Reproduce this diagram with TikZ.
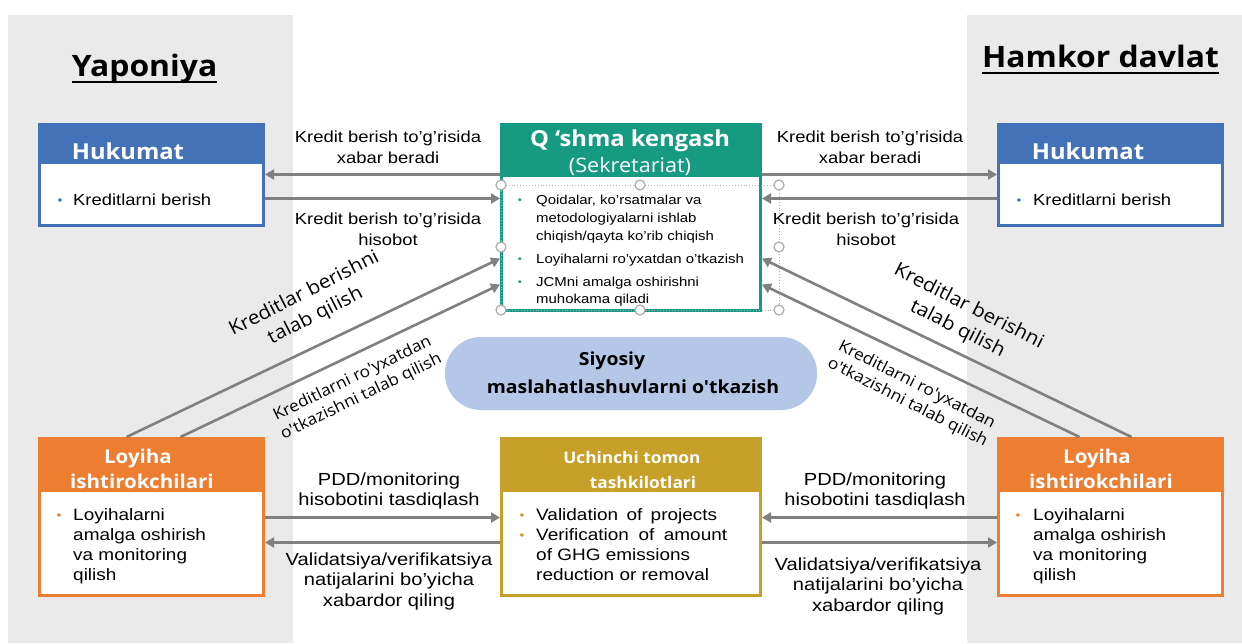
\documentclass[tikz,border=0pt]{standalone}
\usepackage{fontspec}
\setmainfont[FakeStretch=1.15]{Liberation Sans}
\newfontfamily\hdfont[FakeStretch=1.08]{Open Sans}
\usetikzlibrary{arrows.meta,calc}
\definecolor{cBlue}{RGB}{68,114,184}
\definecolor{cTeal}{RGB}{22,154,130}
\definecolor{cOrange}{RGB}{237,125,49}
\definecolor{cGold}{RGB}{199,160,42}
\definecolor{cEll}{RGB}{180,199,231}
\definecolor{cPanel}{RGB}{234,234,234}
\definecolor{cArrow}{RGB}{128,128,128}
\newcommand\fsz[2]{\fontsize{#1}{#2}\selectfont}
\tikzset{
  box/.style={draw=#1, line width=3pt, fill=white, inner sep=0pt, rectangle},
  ttl/.style={inner sep=0pt, anchor=base, font=\hdfont\bfseries\fsz{29.5}{34}},
  hdr/.style={inner sep=0pt, anchor=base, text=white, font=\hdfont\bfseries\fsz{22}{26}},
  hdrb/.style={inner sep=0pt, anchor=base, text=white, font=\hdfont\bfseries\fsz{19}{23}},
  hdrc/.style={inner sep=0pt, anchor=base, text=white, font=\hdfont\bfseries\fsz{16}{20}},
  txt/.style={inner sep=0pt, anchor=base west, font=\fsz{16}{19}},
  txtm/.style={inner sep=0pt, anchor=base west, font=\fsz{13}{16}},
  txtb/.style={inner sep=0pt, anchor=base west, font=\fsz{16.5}{20}},
  bul/.style={inner sep=0pt, anchor=base, font=\fsz{12}{14}},
  lab/.style={inner sep=0pt, align=center, font=\fsz{16}{21}},
  labb/.style={inner sep=0pt, align=center, font=\fsz{17.5}{20.5}},
  dlab/.style={inner sep=0pt, align=center, font=\hdfont\fsz{19}{25}},
  dlabs/.style={inner sep=0pt, align=center, font=\hdfont\fsz{16}{20}},
  arr/.style={draw=cArrow, line width=3pt, -{Triangle[length=9pt,width=10pt]}},
  darr/.style={draw=cArrow, line width=2.6pt, -{Triangle[length=9pt,width=10pt]}},
  handle/.style={circle, draw=gray!65, fill=white, line width=1.2pt, minimum size=10pt, inner sep=0pt},
  siyt/.style={inner sep=0pt, anchor=base, font=\hdfont\bfseries\fsz{18}{22}},
}
\begin{document}
\begin{tikzpicture}[x=1pt,y=-1pt]
\useasboundingbox (0,0) rectangle (1242,643);
\fill[white] (0,0) rectangle (1242,643);
\fill[cPanel] (8,15) rectangle (293,643);
\fill[cPanel] (967,15) rectangle (1242,643);

% titles
\node[ttl] (tJ) at (144.5,76) {Yaponiya};
\draw[line width=2pt] ([yshift=-6pt]tJ.base west) -- ([yshift=-6pt]tJ.base east);
\node[ttl] (tH) at (1100.5,67) {Hamkor davlat};
\draw[line width=2pt] ([yshift=-6pt]tH.base west) -- ([yshift=-6pt]tH.base east);

% Hukumat left
\node[box=cBlue, minimum width=224pt, minimum height=101pt] (hukL) at (151.5,175) {};
\fill[cBlue] (hukL.north west) rectangle ($(hukL.north east)+(0,40.5)$);
\node[hdr] (hukLh) at (128,159) {Hukumat};
\node[bul, text=cBlue] (hukLb) at (60,204) {•};
\node[txt] (hukLt) at (73,205) {Kreditlarni berish};

% Hukumat right
\node[box=cBlue, minimum width=224pt, minimum height=101pt] (hukR) at (1110.5,175) {};
\fill[cBlue] (hukR.north west) rectangle ($(hukR.north east)+(0,40.5)$);
\node[hdr] (hukRh) at (1088,159) {Hukumat};
\node[bul, text=cBlue] (hukRb) at (1019,204) {•};
\node[txt] (hukRt) at (1033,205) {Kreditlarni berish};

% Qo'shma kengash
\node[box=cTeal, minimum width=259pt, minimum height=186pt] (qk) at (631,217.5) {};
\fill[cTeal] (qk.north west) rectangle ($(qk.north east)+(0,53.5)$);
\node[hdr] (qkh) at (630,146) {Q ‘shma kengash};
\node[inner sep=0pt, anchor=base, text=white, font=\hdfont\fsz{20}{24}] (qks) at (630,172) {(Sekretariat)};
\foreach \y/\t [count=\i] in {204/{Qoidalar, ko'rsatmalar va},222/{metodologiyalarni ishlab},240/{chiqish/qayta ko'rib chiqish},263/{Loyihalarni ro'yxatdan o'tkazish},286/{JCMni amalga oshirishni},303/{muhokama qiladi}}
  \node[txtm] (qkt\i) at (536,\y) {\t};
\foreach \y [count=\i] in {203,262,285}
  \node[bul, text=cTeal, font=\fsz{10}{12}] (qkb\i) at (520,\y) {•};

% selection frame
\draw[gray!60, dotted, line width=0.9pt] (501,185) rectangle (779,310);
\foreach \x/\y [count=\i] in {501/185,640/185,779/185,501/247,779/247,501/310,640/310,779/310}
  \node[handle] (hd\i) at (\x,\y) {};

% Siyosiy
\node[fill=cEll, rounded corners=36pt, minimum width=372pt, minimum height=73pt, inner sep=0pt] (siy) at (631,373.5) {};
\node[siyt] (siy1) at (612,365) {Siyosiy};
\node[siyt] (siy2) at (633,393) {maslahatlashuvlarni o'tkazish};

% Loyiha left
\node[box=cOrange, minimum width=224pt, minimum height=157pt] (lpL) at (151.5,517) {};
\fill[cOrange] (lpL.north west) rectangle ($(lpL.north east)+(0,54.5)$);
\node[hdrb] (lpLh1) at (138,463) {Loyiha};
\node[hdrb] (lpLh2) at (142,488) {ishtirokchilari};
\node[bul, text=cOrange] (lpLb) at (59,519) {•};
\foreach \y/\t [count=\i] in {520/Loyihalarni,540/amalga oshirish,560/va monitoring,580/qilish}
  \node[txtb] (lpLt\i) at (73,\y) {\t};

% Loyiha right
\node[box=cOrange, minimum width=224pt, minimum height=157pt] (lpR) at (1110.5,517) {};
\fill[cOrange] (lpR.north west) rectangle ($(lpR.north east)+(0,54.5)$);
\node[hdrb] (lpRh1) at (1097,463) {Loyiha};
\node[hdrb] (lpRh2) at (1101,488) {ishtirokchilari};
\node[bul, text=cOrange] (lpRb) at (1018,519) {•};
\foreach \y/\t [count=\i] in {520/Loyihalarni,540/amalga oshirish,560/va monitoring,580/qilish}
  \node[txtb] (lpRt\i) at (1033,\y) {\t};

% Uchinchi tomon
\node[box=cGold, minimum width=259pt, minimum height=157pt] (uch) at (631,517) {};
\fill[cGold] (uch.north west) rectangle ($(uch.north east)+(0,54.5)$);
\node[hdrc] (uchh1) at (632,463) {Uchinchi tomon};
\node[hdrc] (uchh2) at (643,488) {tashkilotlari};
\node[bul, text=cGold] (uchb1) at (522,519) {•};
\node[bul, text=cGold] (uchb2) at (522,539) {•};
\node[txtb] (ucht1) at (536,520) {\makebox[181pt][s]{Validation of projects}};
\node[txtb] (ucht2) at (536,540) {\makebox[191pt][s]{Verification of amount}};
\node[txtb] (ucht3) at (536,560) {of GHG emissions};
\node[txtb] (ucht4) at (536,580) {reduction or removal};

% horizontal arrows top
\draw[arr] ($(qk.north west)+(0,51.5)$) -- ($(hukL.north east)+(0,51.5)$);
\draw[arr] ($(hukL.north east)+(0,75.5)$) -- ($(qk.north west)+(0,75.5)$);
\draw[arr] ($(qk.north east)+(0,51.5)$) -- ($(hukR.north west)+(0,51.5)$);
\draw[arr] ($(hukR.north west)+(0,75.5)$) -- ($(qk.north east)+(0,75.5)$);

% horizontal arrows bottom
\draw[arr] ($(lpL.north east)+(0,80.5)$) -- ($(uch.north west)+(0,80.5)$);
\draw[arr] ($(uch.north west)+(0,105.5)$) -- ($(lpL.north east)+(0,105.5)$);
\draw[arr] ($(lpR.north west)+(0,80.5)$) -- ($(uch.north east)+(0,80.5)$);
\draw[arr] ($(uch.north east)+(0,105.5)$) -- ($(lpR.north west)+(0,105.5)$);

% diagonal arrows
\draw[darr] ($(lpL.north west)+(88.5,0)$) -- ($(qk.north west)+(0,135.5)$);
\draw[darr] ($(lpL.north west)+(142.5,0)$) -- ($(qk.north west)+(0,161.5)$);
\draw[darr] ($(lpR.north west)+(134.5,0)$) -- ($(qk.north east)+(0,135.5)$);
\draw[darr] ($(lpR.north west)+(82.5,0)$) -- ($(qk.north east)+(0,161.5)$);

% labels
\node[lab] (l1) at (388,147) {Kredit berish to'g'risida\\xabar beradi};
\node[lab] (l2) at (388,229) {Kredit berish to'g'risida\\hisobot};
\node[lab] (l3) at (870,147) {Kredit berish to'g'risida\\xabar beradi};
\node[lab] (l4) at (866,229) {Kredit berish to'g'risida\\hisobot};
\node[labb] (l5) at (389,491) {PDD/monitoring\\hisobotini tasdiqlash};
\node[labb] (l6) at (389,581) {Validatsiya/verifikatsiya\\natijalarini bo'yicha\\xabardor qiling};
\node[labb] (l7) at (875,491) {PDD/monitoring\\hisobotini tasdiqlash};
\node[labb] (l8) at (878,586) {Validatsiya/verifikatsiya\\natijalarini bo'yicha\\xabardor qiling};
\node[dlab, rotate=27] (d1) at (310,305) {Kreditlar berishni\\talab qilish};
\node[dlabs, rotate=26] (d2) at (357,388) {Kreditlarni ro'yxatdan\\o'tkazishni talab qilish};
\node[dlab, rotate=-27] (d3) at (963,318) {Kreditlar berishni\\talab qilish};
\node[dlabs, rotate=-27] (d4) at (912,394) {Kreditlarni ro'yxatdan\\o'tkazishni talab qilish};
\end{tikzpicture}
\end{document}
